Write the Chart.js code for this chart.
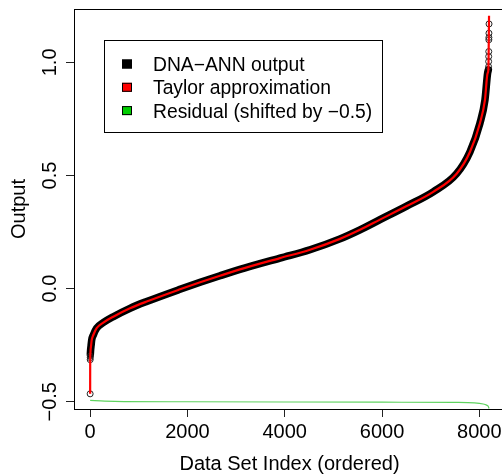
<!DOCTYPE html>
<html>
<head>
<meta charset="utf-8">
<script src="https://cdn.jsdelivr.net/npm/chart.js@4.4.0/dist/chart.umd.min.js"></script>
<style>
html, body { margin: 0; padding: 0; background: #fff; overflow: hidden; }
canvas { display: block; }
</style>
</head>
<body>
<canvas id="chart" width="510" height="475"></canvas>
<script>
// DNA-ANN output along the ordered index (the dense band of circles)
var bandIndex  = [5, 10, 20, 33, 66, 135, 272, 477, 820, 1163, 1848, 2262, 2670, 3080, 3903, 4519, 5136, 5547, 5958, 6506, 7053, 7534, 7807, 8013, 8116, 8170, 8186];
var bandOutput = [-0.290, -0.272, -0.252, -0.227, -0.205, -0.175, -0.150, -0.124, -0.087, -0.057, -0.003, 0.028, 0.057, 0.085, 0.135, 0.172, 0.220, 0.260, 0.305, 0.365, 0.428, 0.508, 0.604, 0.731, 0.834, 0.952, 0.967];

// circles that stand apart at both ends
var pointIndex  = [1, 2, 3, 4, 8191, 8192, 8193, 8194, 8196, 8197, 8198, 8200];
var pointOutput = [-0.465, -0.314, -0.305, -0.298, 0.981, 1.004, 1.026, 1.048, 1.100, 1.110, 1.129, 1.170];

// Taylor approximation
var taylorIndex  = [1, 2, 5, 10, 20, 33, 66, 135, 272, 477, 820, 1163, 1848, 2262, 2670, 3080, 3903, 4519, 5136, 5547, 5958, 6506, 7053, 7534, 7807, 8013, 8116, 8170, 8186, 8200];
var taylorOutput = [-0.465, -0.314, -0.290, -0.272, -0.252, -0.227, -0.205, -0.175, -0.150, -0.124, -0.087, -0.057, -0.003, 0.028, 0.057, 0.085, 0.135, 0.172, 0.220, 0.260, 0.305, 0.365, 0.428, 0.508, 0.604, 0.731, 0.834, 0.952, 0.967, 1.206];

// residual (plotted shifted by -0.5)
var residualIndex = [1, 300, 700, 2000, 4000, 6000, 7500, 7900, 8080, 8150, 8183, 8200];
var residual      = [0.006, 0.003, 0.001, 0.000, -0.001, -0.002, -0.003, -0.005, -0.010, -0.015, -0.020, -0.030];
var residualShift = -0.5;

var xTicks = [0, 2000, 4000, 6000, 8000];
var yTicks = [-0.5, 0, 0.5, 1];
var yTickLabels = ['\u22120.5', '0.0', '0.5', '1.0'];

var legendLabels = ['DNA\u2212ANN output', 'Taylor approximation', 'Residual (shifted by \u22120.5)'];
var legendColors = ['#000000', '#ff0000', '#00cd00'];

var FONT = '20px "Liberation Sans", Arial, sans-serif';
var LEGEND_FONT = '19.3px "Liberation Sans", Arial, sans-serif';

function pts(xs, ys, shift) {
    shift = shift || 0;
    return xs.map(function (x, i) { return { x: x, y: ys[i] + shift }; });
}

var frame = {
    id: 'frame',
    afterDraw: function (chart) {
        var ctx = chart.ctx;
        var a = chart.chartArea;
        var xs = chart.scales.x;
        var ys = chart.scales.y;
        ctx.save();
        ctx.strokeStyle = '#000';
        ctx.lineWidth = 1;
        ctx.strokeRect(a.left + 0.5, a.top + 0.5, a.right - a.left, a.bottom - a.top);

        ctx.fillStyle = '#000';
        ctx.font = FONT;
        ctx.textBaseline = 'alphabetic';
        ctx.textAlign = 'center';
        xTicks.forEach(function (v) {
            ctx.fillText(String(v), xs.getPixelForValue(v), 438);
        });
        ctx.fillText('Data Set Index (ordered)', (a.left + a.right) / 2, 470);

        yTicks.forEach(function (v, i) {
            ctx.save();
            ctx.translate(56, ys.getPixelForValue(v));
            ctx.rotate(-Math.PI / 2);
            ctx.fillText(yTickLabels[i], 0, 0);
            ctx.restore();
        });
        ctx.save();
        ctx.translate(25, (a.top + a.bottom) / 2);
        ctx.rotate(-Math.PI / 2);
        ctx.fillText('Output', 0, 0);
        ctx.restore();

        // legend
        ctx.strokeRect(104.5, 40.5, 278, 92);
        ctx.font = LEGEND_FONT;
        ctx.textAlign = 'left';
        for (var i = 0; i < legendLabels.length; i++) {
            var cy = 64 + i * 23.3;
            ctx.fillStyle = legendColors[i];
            ctx.fillRect(122, cy - 4.5, 10, 9);
            ctx.strokeStyle = '#000';
            ctx.strokeRect(122.5, cy - 4, 9, 8);
            ctx.fillStyle = '#000';
            ctx.fillText(legendLabels[i], 153, cy + 7);
        }
        ctx.restore();
    }
};

new Chart(document.getElementById('chart'), {
    type: 'scatter',
    data: {
        datasets: [
            {
                label: 'DNA-ANN output',
                data: pts(bandIndex, bandOutput),
                showLine: true,
                borderColor: '#000',
                borderWidth: 7.5,
                borderCapStyle: 'round',
                borderJoinStyle: 'round',
                cubicInterpolationMode: 'monotone',
                pointRadius: 0,
                order: 4
            },
            {
                label: 'DNA-ANN points',
                data: pts(pointIndex, pointOutput),
                showLine: false,
                pointRadius: 3,
                pointBorderWidth: 1,
                pointBorderColor: '#222',
                pointBackgroundColor: 'rgba(0,0,0,0)',
                order: 3
            },
            {
                label: 'Taylor approximation',
                data: pts(taylorIndex, taylorOutput),
                showLine: true,
                borderColor: '#ff0000',
                borderWidth: 2.2,
                cubicInterpolationMode: 'monotone',
                pointRadius: 0,
                order: 2
            },
            {
                label: 'Residual',
                data: pts(residualIndex, residual, residualShift),
                showLine: true,
                borderColor: '#5fd35f',
                borderWidth: 1.2,
                cubicInterpolationMode: 'monotone',
                pointRadius: 0,
                order: 1
            }
        ]
    },
    options: {
        responsive: false,
        animation: false,
        events: [],
        layout: { padding: { left: 0, top: 9, right: 5, bottom: 0 } },
        plugins: { legend: { display: false }, tooltip: { enabled: false } },
        scales: {
            x: {
                type: 'linear',
                min: -331,
                max: 8528,
                afterBuildTicks: function (s) { s.ticks = xTicks.map(function (v) { return { value: v }; }); },
                afterFit: function (s) { s.height = 66; },
                ticks: { display: false },
                border: { display: false },
                grid: { drawOnChartArea: false, drawTicks: true, tickLength: 8, color: '#222', tickColor: '#222' }
            },
            y: {
                type: 'linear',
                min: -0.532,
                max: 1.236,
                afterBuildTicks: function (s) { s.ticks = yTicks.map(function (v) { return { value: v }; }); },
                afterFit: function (s) { s.width = 74; },
                ticks: { display: false },
                border: { display: false },
                grid: { drawOnChartArea: false, drawTicks: true, tickLength: 8, color: '#222', tickColor: '#222' }
            }
        }
    },
    plugins: [frame]
});
</script>
</body>
</html>
